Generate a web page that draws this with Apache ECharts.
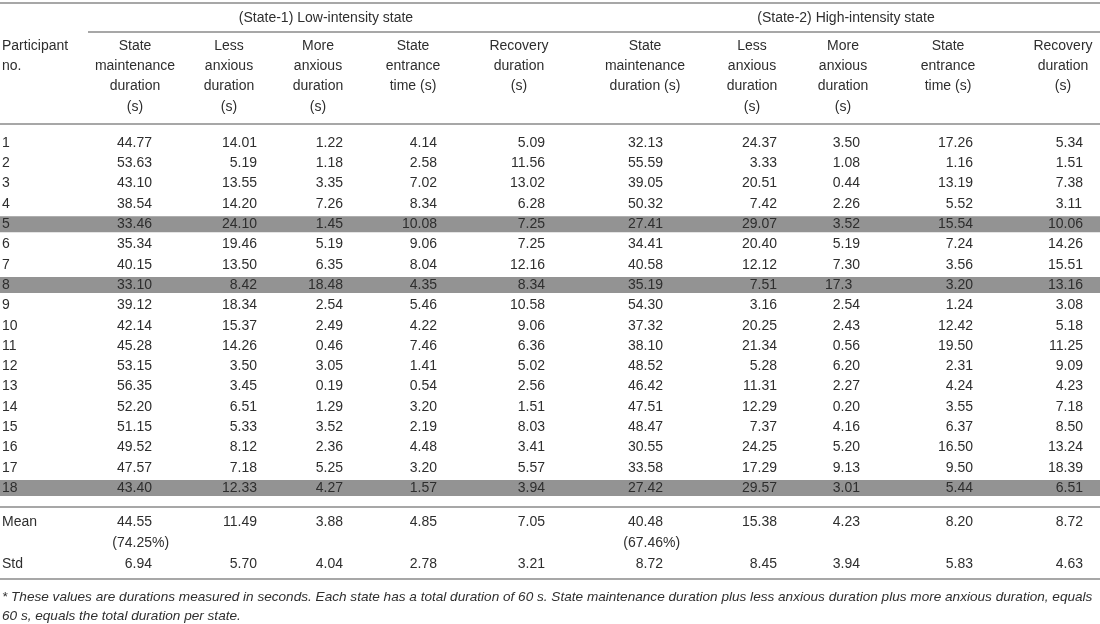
<!DOCTYPE html>
<html><head><meta charset="utf-8">
<script src="https://cdn.jsdelivr.net/npm/echarts@6.0.0/dist/echarts.min.js"></script>
<style>html,body{margin:0;padding:0;background:#fff}#c{width:1100px;height:624px}</style>
</head><body><div id="c"></div>
<script>
// ---------- DATA ----------
const participants = ['1','2','3','4','5','6','7','8','9','10','11','12','13','14','15','16','17','18'];
const highlightedParticipants = ['5','8','18'];
const groupTitles = ['(State-1) Low-intensity state', '(State-2) High-intensity state'];
const s1Headers = ['State\nmaintenance\nduration\n(s)', 'Less\nanxious\nduration\n(s)', 'More\nanxious\nduration\n(s)', 'State\nentrance\ntime (s)', 'Recovery\nduration\n(s)'];
const s2Headers = ['State\nmaintenance\nduration (s)', 'Less\nanxious\nduration\n(s)', 'More\nanxious\nduration\n(s)', 'State\nentrance\ntime (s)', 'Recovery\nduration\n(s)'];
const firstHeader = 'Participant\nno.';

const s1Maintenance = ['44.77','53.63','43.10','38.54','33.46','35.34','40.15','33.10','39.12','42.14','45.28','53.15','56.35','52.20','51.15','49.52','47.57','43.40'];
const s1LessAnxious = ['14.01','5.19','13.55','14.20','24.10','19.46','13.50','8.42','18.34','15.37','14.26','3.50','3.45','6.51','5.33','8.12','7.18','12.33'];
const s1MoreAnxious = ['1.22','1.18','3.35','7.26','1.45','5.19','6.35','18.48','2.54','2.49','0.46','3.05','0.19','1.29','3.52','2.36','5.25','4.27'];
const s1Entrance   = ['4.14','2.58','7.02','8.34','10.08','9.06','8.04','4.35','5.46','4.22','7.46','1.41','0.54','3.20','2.19','4.48','3.20','1.57'];
const s1Recovery   = ['5.09','11.56','13.02','6.28','7.25','7.25','12.16','8.34','10.58','9.06','6.36','5.02','2.56','1.51','8.03','3.41','5.57','3.94'];

const s2Maintenance = ['32.13','55.59','39.05','50.32','27.41','34.41','40.58','35.19','54.30','37.32','38.10','48.52','46.42','47.51','48.47','30.55','33.58','27.42'];
const s2LessAnxious = ['24.37','3.33','20.51','7.42','29.07','20.40','12.12','7.51','3.16','20.25','21.34','5.28','11.31','12.29','7.37','24.25','17.29','29.57'];
const s2MoreAnxious = ['3.50','1.08','0.44','2.26','3.52','5.19','7.30','17.3','2.54','2.43','0.56','6.20','2.27','0.20','4.16','5.20','9.13','3.01'];
const s2Entrance   = ['17.26','1.16','13.19','5.52','15.54','7.24','3.56','3.20','1.24','12.42','19.50','2.31','4.24','3.55','6.37','16.50','9.50','5.44'];
const s2Recovery   = ['5.34','1.51','7.38','3.11','10.06','14.26','15.51','13.16','3.08','5.18','11.25','9.09','4.23','7.18','8.50','13.24','18.39','6.51'];

const summaryLabels = ['Mean', 'Std'];
const s1Mean = ['44.55','11.49','3.88','4.85','7.05'];
const s2Mean = ['40.48','15.38','4.23','8.20','8.72'];
const meanPercent = ['(74.25%)', '(67.46%)'];
const s1Std = ['6.94','5.70','4.04','2.78','3.21'];
const s2Std = ['8.72','8.45','3.94','5.83','4.63'];

const footnoteLines = [
  '* These values are durations measured in seconds. Each state has a total duration of 60 s. State maintenance duration plus less anxious duration plus more anxious duration, equals',
  '60 s, equals the total duration per state.'
];

// ---------- LAYOUT (positions / styles only) ----------
const L = {
  W: 1100, H: 624,
  font: '"Liberation Sans", Arial, Helvetica, sans-serif',
  size: 14,
  color: '#2e2e2e',
  ruleColor: '#8a8a8a',
  bandColor: '#939393',
  headCenters: [135, 229, 318, 413, 519, 645, 752, 843, 948, 1063],
  decimalX:    [132.5, 237.5, 323.5, 417.5, 525.5, 643.5, 757.5, 840.5, 953.5, 1063.5],
  groupCenters: [326, 846],
  groupTitleY: 18,
  headerFirstY: 46, headerStep: 20.3,
  rowFirstY: 143, rowStep: 20.3,
  bandHalf: 8,
  leftX: 2,
  rules: [ {y: 3, x1: 0}, {y: 32, x1: 88}, {y: 124, x1: 0}, {y: 507, x1: 0}, {y: 579, x1: 0} ],
  meanY: 522, pctY: 543, stdY: 564,
  footY: [597, 616], footSize: 13.6
};

// ---------- BUILD ----------
const dataCols = [s1Maintenance, s1LessAnxious, s1MoreAnxious, s1Entrance, s1Recovery,
                  s2Maintenance, s2LessAnxious, s2MoreAnxious, s2Entrance, s2Recovery];
const headers = s1Headers.concat(s2Headers);
const meanAll = s1Mean.concat(s2Mean);
const stdAll = s1Std.concat(s2Std);
const rowY = i => L.rowFirstY + i * L.rowStep;

const texts = [];
const cellData = [];
function addCell(x, y, text, kind) { texts.push(text); cellData.push([x, y, kind, texts.length - 1]); }
// kinds: 0 decimal aligned, 1 centered, 2 left, 3 footnote
participants.forEach((p, r) => {
  addCell(L.leftX, rowY(r), p, 2);
  dataCols.forEach((col, c) => addCell(L.decimalX[c], rowY(r), col[r], 0));
});
firstHeader.split('\n').forEach((t, k) => addCell(L.leftX, L.headerFirstY + k * L.headerStep, t, 2));
headers.forEach((h, c) => h.split('\n').forEach((t, k) => addCell(L.headCenters[c], L.headerFirstY + k * L.headerStep, t, 1)));
groupTitles.forEach((g, i) => addCell(L.groupCenters[i], L.groupTitleY, g, 1));
addCell(L.leftX, L.meanY, summaryLabels[0], 2);
addCell(L.leftX, L.stdY, summaryLabels[1], 2);
meanAll.forEach((v, c) => addCell(L.decimalX[c], L.meanY, v, 0));
stdAll.forEach((v, c) => addCell(L.decimalX[c], L.stdY, v, 0));
meanPercent.forEach((v, i) => addCell(L.decimalX[i * 5], L.pctY, v, 0));
footnoteLines.forEach((t, k) => addCell(L.leftX, L.footY[k], t, 3));

const bandData = highlightedParticipants.map(p => [0, rowY(participants.indexOf(p))]);
const ruleData = L.rules.map(r => [r.x1, r.y]);

function txt(x, y, text, align, italic, size) {
  return {
    type: 'text', x: x, y: y,
    style: {
      text: text, align: align, verticalAlign: 'middle',
      fontFamily: L.font, fontSize: size || L.size, fontStyle: italic ? 'italic' : 'normal',
      fill: L.color
    }
  };
}

const chart = echarts.init(document.getElementById('c'), null, {renderer: 'canvas'});
chart.setOption({
  animation: false,
  backgroundColor: '#ffffff',
  grid: {left: 0, right: 0, top: 0, bottom: 0},
  xAxis: {type: 'value', min: 0, max: L.W, show: false},
  yAxis: {type: 'value', min: 0, max: L.H, inverse: true, show: false},
  series: [
    {
      type: 'custom', name: 'bands', silent: true, data: bandData,
      renderItem: (params, api) => {
        const a = api.coord([0, api.value(1) - L.bandHalf]);
        const b = api.coord([L.W, api.value(1) + L.bandHalf]);
        return {type: 'rect', shape: {x: a[0], y: a[1], width: b[0] - a[0], height: b[1] - a[1]}, style: {fill: L.bandColor}};
      }
    },
    {
      type: 'custom', name: 'rules', silent: true, data: ruleData,
      renderItem: (params, api) => {
        const a = api.coord([api.value(0), api.value(1)]);
        const b = api.coord([L.W, api.value(1)]);
        return {type: 'line', shape: {x1: a[0], y1: a[1], x2: b[0], y2: b[1]}, style: {stroke: L.ruleColor, lineWidth: 1.5}};
      }
    },
    {
      type: 'custom', name: 'cells', silent: true, data: cellData,
      renderItem: (params, api) => {
        const pt = api.coord([api.value(0), api.value(1)]);
        const kind = api.value(2);
        const text = texts[api.value(3)];
        if (kind === 0) {
          const i = text.indexOf('.');
          const intPart = i >= 0 ? text.slice(0, i) : text;
          const frac = i >= 0 ? text.slice(i) : '';
          return {type: 'group', children: [txt(pt[0], pt[1], intPart, 'right'), txt(pt[0], pt[1], frac, 'left')]};
        }
        if (kind === 1) return txt(pt[0], pt[1], text, 'center');
        if (kind === 2) return txt(pt[0], pt[1], text, 'left');
        return txt(pt[0], pt[1], text, 'left', true, L.footSize);
      }
    }
  ]
});
</script>
</body></html>
